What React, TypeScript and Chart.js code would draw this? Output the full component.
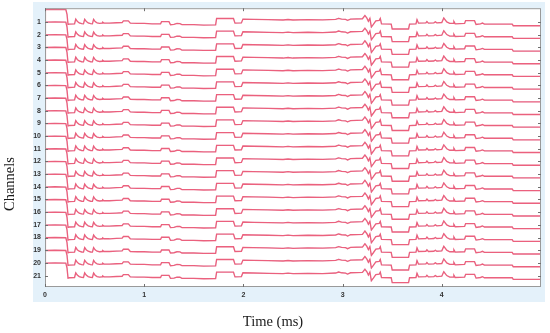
import React, { useEffect, useRef } from "react";
import { Chart, registerables } from "chart.js";

Chart.register(...registerables);

// Channel numbers (top to bottom)
const CHANNELS = [1, 2, 3, 4, 5, 6, 7, 8, 9, 10, 11, 12, 13, 14, 15, 16, 17, 18, 19, 20, 21];
// X tick labels (ms)
const X_TICKS = [0, 1, 2, 3, 4];

// Recorded waveform (common to all channels): time (ms) and amplitude (channel units, up = positive)
const WAVE_T = [
  0, 0.004, 0.1, 0.21, 0.222, 0.232, 0.245, 0.298, 0.31, 0.325, 0.345, 0.37,
  0.388, 0.4, 0.415, 0.435, 0.46, 0.478, 0.49, 0.505, 0.525, 0.55, 0.575, 0.582,
  0.595, 0.65, 0.72, 0.778, 0.79, 0.84, 0.86, 0.93, 1.0, 1.08, 1.165, 1.175,
  1.25, 1.265, 1.3, 1.33, 1.36, 1.38, 1.5, 1.6, 1.72, 1.73, 1.9, 1.915,
  1.98, 1.995, 2.1, 2.25, 2.4, 2.45, 2.5, 2.65, 2.8, 2.93, 2.96, 2.99,
  3.03, 3.05, 3.08, 3.2, 3.225, 3.245, 3.26, 3.275, 3.29, 3.31, 3.335, 3.37,
  3.38, 3.392, 3.49, 3.5, 3.665, 3.675, 3.74, 3.75, 3.765, 3.84, 3.85, 3.865,
  3.92, 3.935, 3.95, 4.0, 4.02, 4.05, 4.08, 4.115, 4.122, 4.135, 4.23, 4.24,
  4.33, 4.345, 4.39, 4.41, 4.43, 4.71, 4.72, 5.0,
];
// Filtered trace (red)
const WAVE_U = [
  -0.05, 0.98, 1.0, 0.98, 0.6, -0.2, -0.17, -0.15, 0.22, 0.04, -0.08, -0.14,
  -0.15, 0.21, 0.04, -0.08, -0.14, -0.15, 0.2, 0.03, -0.08, -0.12, -0.1, -0.03,
  -0.1, -0.1, -0.07, -0.05, 0.08, 0.08, -0.1, -0.12, -0.12, -0.15, -0.15, 0.02,
  0.02, -0.22, -0.2, -0.12, -0.13, -0.22, -0.22, -0.25, -0.24, 0.27, 0.27, -0.1,
  -0.08, 0.22, 0.2, 0.18, 0.15, 0.19, 0.15, 0.18, 0.16, 0.2, 0.28, 0.22,
  0.2, 0.12, 0.22, 0.25, 0.5, 0.3, 0.05, 0.28, -0.4, -0.2, 0.08, 0.12,
  0.27, -0.15, -0.17, -0.56, -0.56, -0.17, -0.15, 0.18, -0.1, -0.08, 0.03, -0.1,
  -0.08, 0.0, -0.08, -0.05, 0.3, 0.0, -0.12, -0.12, 0.03, -0.15, -0.12, 0.1,
  0.1, -0.2, -0.15, -0.09, -0.17, -0.17, -0.3, -0.3,
];
// Raw trace (blue), slightly spikier than the filtered one
const RAW_U = [
  -0.05, 0.98, 1.0, 0.98, 0.6, -0.2, -0.17, -0.15, 0.25, 0.04, -0.08, -0.14,
  -0.15, 0.24, 0.04, -0.08, -0.14, -0.15, 0.23, 0.03, -0.08, -0.12, -0.1, -0.03,
  -0.1, -0.1, -0.07, -0.05, 0.08, 0.08, -0.1, -0.12, -0.12, -0.15, -0.15, 0.02,
  0.02, -0.22, -0.2, -0.12, -0.13, -0.22, -0.22, -0.25, -0.24, 0.27, 0.27, -0.1,
  -0.08, 0.22, 0.2, 0.18, 0.15, 0.19, 0.15, 0.18, 0.16, 0.2, 0.3, 0.22,
  0.2, 0.1, 0.22, 0.25, 0.55, 0.3, 0.0, 0.3, -0.46, -0.2, 0.08, 0.12,
  0.3, -0.15, -0.17, -0.56, -0.56, -0.17, -0.15, 0.22, -0.1, -0.08, 0.05, -0.1,
  -0.08, 0.02, -0.08, -0.05, 0.34, 0.0, -0.12, -0.12, 0.05, -0.15, -0.12, 0.1,
  0.1, -0.2, -0.15, -0.09, -0.17, -0.17, -0.3, -0.3,
];

const TICK_FONT = { family: "Liberation Sans", size: 7, weight: "bold" as const };

export default function App() {
  const ref = useRef<HTMLCanvasElement>(null);

  useEffect(() => {
    document.body.style.margin = "0";
    const canvas = ref.current;
    if (!canvas) return;

    const redSets = CHANNELS.map((ch) => ({
      label: "filtered " + ch,
      data: WAVE_T.map((t, k) => ({ x: t, y: ch - WAVE_U[k] })),
      borderColor: "rgba(236,74,104,0.85)",
      borderWidth: 1.35,
      pointRadius: 0,
      order: 1,
    }));
    const blueSets = CHANNELS.map((ch) => ({
      label: "raw " + ch,
      data: WAVE_T.map((t, k) => ({ x: t, y: ch - RAW_U[k] })),
      borderColor: "rgba(80,60,170,0.3)",
      borderWidth: 0.6,
      pointRadius: 0,
      order: 2,
    }));

    const frame = {
      id: "frame",
      beforeDraw(chart: any) {
        const { ctx, chartArea: a } = chart;
        ctx.save();
        ctx.fillStyle = "#e4f1fa";
        ctx.fillRect(33, 2, 512, 300);
        ctx.fillStyle = "#ffffff";
        ctx.fillRect(a.left, a.top, a.right - a.left, a.bottom - a.top);
        ctx.restore();
      },
      afterDraw(chart: any) {
        const { ctx, chartArea: a, scales } = chart;
        ctx.save();
        ctx.strokeStyle = "#9a9a9a";
        ctx.lineWidth = 1;
        ctx.strokeRect(a.left + 0.5, a.top + 0.5, a.right - a.left - 1, a.bottom - a.top - 1);
        ctx.strokeStyle = "#707070";
        ctx.beginPath();
        for (const v of X_TICKS) {
          const x = Math.round(scales.x.getPixelForValue(v)) + 0.5;
          ctx.moveTo(x, a.bottom);
          ctx.lineTo(x, a.bottom - 3);
          ctx.moveTo(x, a.top);
          ctx.lineTo(x, a.top + 3);
        }
        for (const v of CHANNELS) {
          const y = Math.round(scales.y.getPixelForValue(v)) + 0.5;
          ctx.moveTo(a.left, y);
          ctx.lineTo(a.left + 3, y);
          ctx.moveTo(a.right, y);
          ctx.lineTo(a.right - 3, y);
        }
        ctx.stroke();
        // axis titles
        ctx.fillStyle = "#1a1a1a";
        ctx.font = "14.5px 'Liberation Serif'";
        ctx.textAlign = "center";
        ctx.textBaseline = "middle";
        ctx.fillText("Time (ms)", 273, 322);
        ctx.translate(10, 184);
        ctx.rotate(-Math.PI / 2);
        ctx.fillText("Channels", 0, 0);
        ctx.restore();
      },
    };

    const chart = new Chart(canvas, {
      type: "line",
      data: { datasets: [...redSets, ...blueSets] as any },
      options: {
        responsive: false,
        animation: false,
        events: [],
        layout: { padding: { left: 0, top: 6, right: 9, bottom: 0 } },
        elements: { line: { tension: 0 } },
        plugins: { legend: { display: false }, tooltip: { enabled: false } },
        scales: {
          x: {
            type: "linear",
            min: 0,
            max: 5,
            grid: { display: false, drawTicks: false },
            border: { display: false },
            ticks: { padding: 4, font: TICK_FONT, color: "#333" },
            afterBuildTicks: (s: any) => {
              s.ticks = X_TICKS.map((v) => ({ value: v }));
            },
            afterFit: (s: any) => {
              s.height = 46;
            },
          },
          y: {
            type: "linear",
            reverse: true,
            min: -0.08,
            max: 21.9,
            grid: { display: false, drawTicks: false },
            border: { display: false },
            ticks: { padding: 4, font: TICK_FONT, color: "#333" },
            afterBuildTicks: (s: any) => {
              s.ticks = CHANNELS.map((v) => ({ value: v }));
            },
            afterFit: (s: any) => {
              s.width = 45;
            },
          },
        },
      },
      plugins: [frame],
    });

    return () => chart.destroy();
  }, []);

  return (
    <div style={{ position: "fixed", left: 0, top: 0, width: 550, height: 333, background: "#fff" }}>
      <canvas ref={ref} width={550} height={333} />
    </div>
  );
}
